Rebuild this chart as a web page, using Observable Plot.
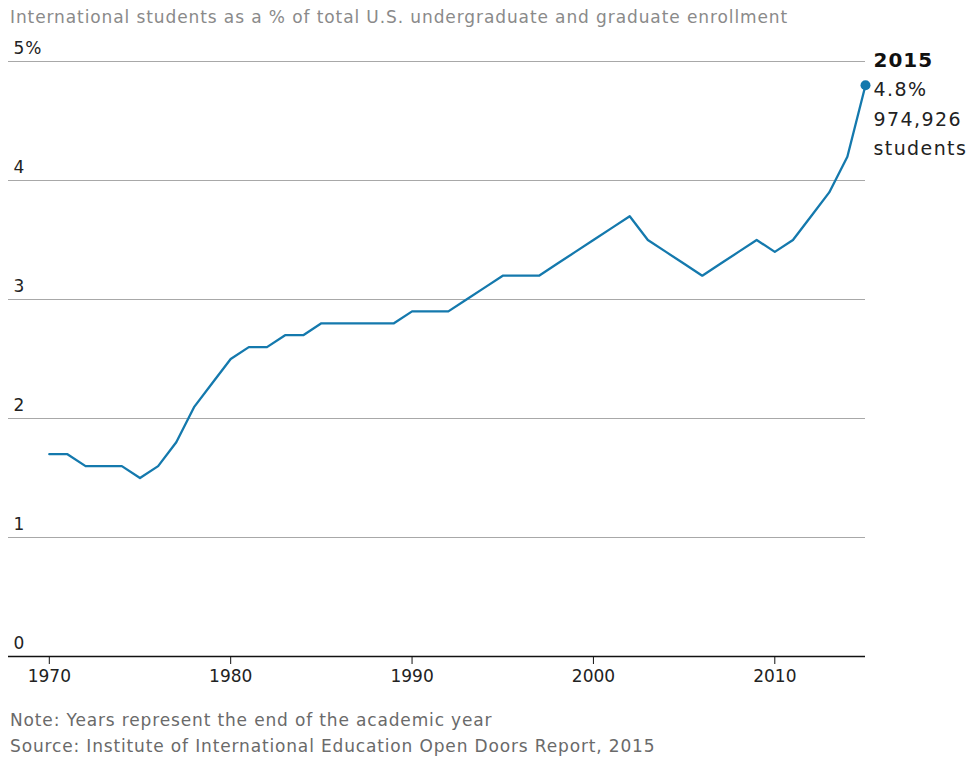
<!DOCTYPE html>
<html>
<head>
<meta charset="utf-8">
<script src="https://cdn.jsdelivr.net/npm/d3@7"></script>
<script src="https://cdn.jsdelivr.net/npm/@observablehq/plot@0.6"></script>
<style>
  body { margin: 0; background: #fff; font-family: "DejaVu Sans", sans-serif; }
  #title { position: absolute; left: 10px; top: 7px; font-size: 17px; letter-spacing: 0.9px; color: #8a8a8a; white-space: nowrap; }
  #chart { position: absolute; left: 0; top: 30px; }
  #caption { position: absolute; left: 10px; top: 707px; font-size: 17px; letter-spacing: 0.85px; color: #6a6a6a; line-height: 26px; white-space: nowrap; }
  #chart g[aria-description="ann"] { letter-spacing: 1.4px; }
  #chart g[aria-description="annyear"] { letter-spacing: 1px; }
  #chart g[aria-description="ylab"] { letter-spacing: 1px; }
</style>
</head>
<body>
<div id="title">International students as a % of total U.S. undergraduate and graduate enrollment</div>
<div id="chart"></div>
<div id="caption">Note: Years represent the end of the academic year<br>Source: Institute of International Education Open Doors Report, 2015</div>
<script>
const years = d3.range(1970, 2016);
const shares = [1.7, 1.7, 1.6, 1.6, 1.6, 1.5, 1.6, 1.8, 2.1, 2.3,
                2.5, 2.6, 2.6, 2.7, 2.7, 2.8, 2.8, 2.8, 2.8, 2.8,
                2.9, 2.9, 2.9, 3.0, 3.1, 3.2, 3.2, 3.2, 3.3, 3.4,
                3.5, 3.6, 3.7, 3.5, 3.4, 3.3, 3.2, 3.3, 3.4, 3.5,
                3.4, 3.5, 3.7, 3.9, 4.2, 4.8];
const xTicks = [1970, 1980, 1990, 2000, 2010];
const yTicks = [0, 1, 2, 3, 4, 5];
const yTickLabels = ["0", "1", "2", "3", "4", "5%"];
const lastLabel = "2015";
const annLines = ["4.8%", "974,926", "students"];

const data = years.map((y, i) => ({year: y, value: shares[i]}));
const last = data[data.length - 1];
const blue = "#1479ad";
const font = "'DejaVu Sans', sans-serif";

const plot = Plot.plot({
  width: 972,
  height: 670,
  marginLeft: 8,
  marginRight: 107,
  marginTop: 31,
  marginBottom: 44,
  style: {fontFamily: font, background: "transparent", overflow: "visible"},
  x: {domain: [1967.75, 2015], label: null},
  y: {domain: [0, 5], label: null, axis: null},
  marks: [
    Plot.ruleY(yTicks.filter(d => d > 0), {stroke: "#a8a8a8", strokeWidth: 1}),
    Plot.ruleY([0], {stroke: "#111", strokeWidth: 1.5}),
    Plot.axisX({ticks: xTicks, label: null, tickSize: 8, tickPadding: 5, fontSize: 17, fill: "#222", stroke: "#111", tickFormat: d => String(d)}),
    Plot.text(yTicks, {y: d => d, text: (d, i) => yTickLabels[i], frameAnchor: "left", textAnchor: "start", dx: 5, dy: -13, fontSize: 17, fill: "#222", ariaDescription: "ylab"}),
    Plot.line(data, {x: "year", y: "value", stroke: blue, strokeWidth: 2.3}),
    Plot.dot([last], {x: "year", y: "value", r: 5, fill: blue}),
    Plot.text([last], {x: "year", y: "value", text: () => lastLabel, textAnchor: "start", dx: 8, dy: -25, fontSize: 20, fontWeight: "bold", fill: "#111", ariaDescription: "annyear"}),
    Plot.text([last], {x: "year", y: "value", text: () => annLines.join("\n"), textAnchor: "start", lineAnchor: "top", lineHeight: 1.55, dx: 8, dy: -10, fontSize: 19, fill: "#222", ariaDescription: "ann"})
  ]
});
document.getElementById("chart").appendChild(plot);
</script>
</body>
</html>
